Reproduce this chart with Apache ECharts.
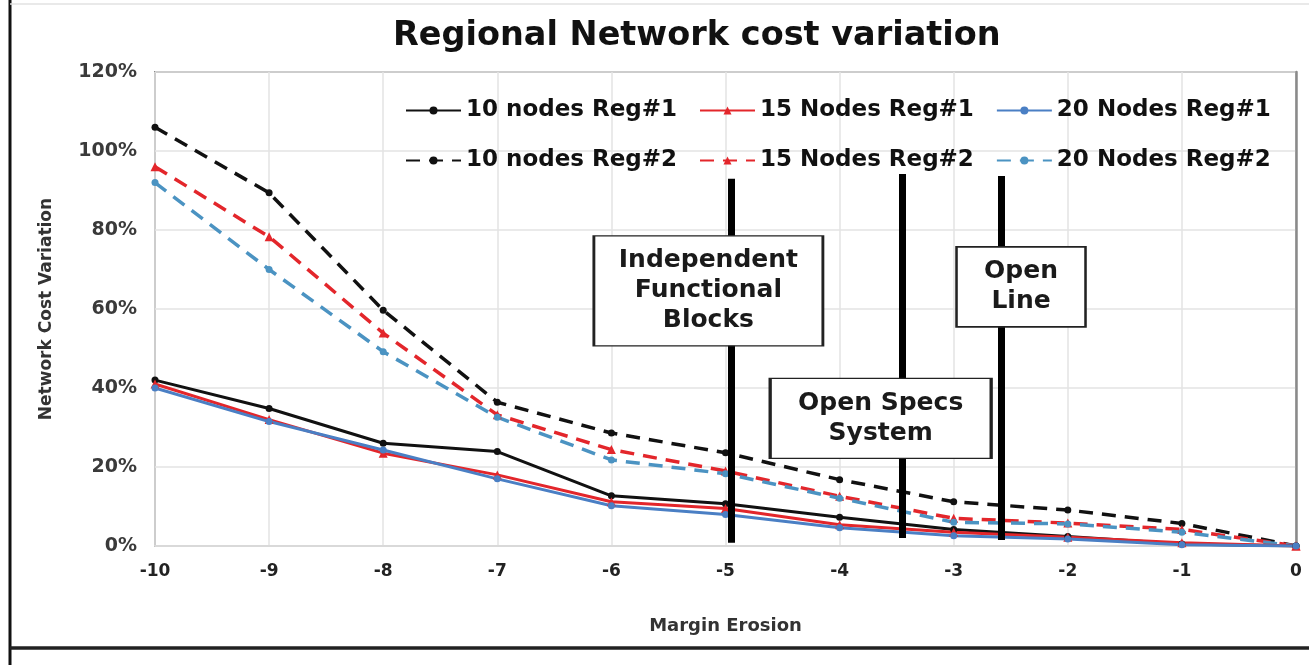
<!DOCTYPE html>
<html>
<head>
<meta charset="utf-8">
<script src="https://cdn.jsdelivr.net/npm/echarts@6/dist/echarts.min.js"></script>
<style>
html,body{margin:0;padding:0;background:#fff;}
#chart{width:1309px;height:665px;}
</style>
</head>
<body>
<div id="chart"></div>
<script>
// ---- data ----
var marginErosion = [-10, -9, -8, -7, -6, -5, -4, -3, -2, -1, 0];
var nodes10Reg1 = [42, 34.8, 26, 23.9, 12.7, 10.7, 7.3, 4.2, 2.4, 0.5, 0];
var nodes15Reg1 = [41, 32, 23.5, 18, 11.2, 9.5, 5.4, 3.5, 2.2, 0.8, 0];
var nodes20Reg1 = [40, 31.5, 24.3, 17, 10.2, 8, 4.6, 2.6, 1.8, 0.3, 0];
var nodes10Reg2 = [106, 89.4, 59.7, 36.4, 28.6, 23.6, 16.8, 11.2, 9.1, 5.7, 0];
var nodes15Reg2 = [96, 78.3, 53.9, 33.2, 24.4, 19, 12.6, 7, 5.8, 4.2, 0];
var nodes20Reg2 = [92, 70, 49.2, 32.6, 21.8, 18.3, 12.1, 6, 5.6, 3.5, 0];
var yTicks = [0, 20, 40, 60, 80, 100, 120];
var seriesNames = ['10 nodes Reg#1', '15 Nodes Reg#1', '20 Nodes Reg#1',
                   '10 nodes Reg#2', '15 Nodes Reg#2', '20 Nodes Reg#2'];
// annotation stages: [x position, top %, bottom %]
var stageLines = [[-4.95, 93, 0.8], [-3.45, 94.2, 2], [-2.58, 93.7, 1.5]];
// annotation boxes: [label, x, y%]
var stageBoxes = [
  ['Independent\nFunctional\nBlocks', -5.15, 64.6],
  ['Open Specs\nSystem', -3.64, 32.3],
  ['Open\nLine', -2.41, 65.6]
];
var boxSizes = [[229, 110], [221, 80], [129, 80]];

var FONT = 'DejaVu Sans';
var BLACK = '#111111', RED = '#e3262b', BLUE = '#4a7fc4', BLUE2 = '#4b93c2';

function pairs(vals) {
  return marginErosion.map(function (x, i) { return [x, vals[i]]; });
}
function mkSeries(name, vals, color, dashed, symbol) {
  return {
    name: name, type: 'line', data: pairs(vals),
    symbol: symbol, symbolSize: symbol === 'triangle' ? 9 : 7,
    z: dashed ? 2 : 3,
    lineStyle: { color: color, width: dashed ? 3.5 : 3, type: dashed ? [14, 9] : 'solid' },
    itemStyle: { color: color }
  };
}

var series = [
  mkSeries(seriesNames[0], nodes10Reg1, BLACK, false, 'circle'),
  mkSeries(seriesNames[1], nodes15Reg1, RED, false, 'triangle'),
  mkSeries(seriesNames[2], nodes20Reg1, BLUE, false, 'circle'),
  mkSeries(seriesNames[3], nodes10Reg2, BLACK, true, 'circle'),
  mkSeries(seriesNames[4], nodes15Reg2, RED, true, 'triangle'),
  mkSeries(seriesNames[5], nodes20Reg2, BLUE2, true, 'circle'),
  {
    name: 'stages', type: 'line', data: [], z: 6, silent: true,
    markLine: {
      silent: true, symbol: ['none', 'none'], label: { show: false },
      lineStyle: { color: '#000', width: 7, type: 'solid' },
      data: stageLines.map(function (s) {
        return [{ coord: [s[0], s[1]] }, { coord: [s[0], s[2]] }];
      })
    }
  },
  {
    name: 'boxes', type: 'line', data: [], z: 8, silent: true,
    markPoint: {
      silent: true,
      data: stageBoxes.map(function (b, i) {
        return {
          coord: [b[1], b[2]], symbol: 'rect', symbolSize: boxSizes[i],
          itemStyle: { color: '#fff', borderColor: '#222', borderWidth: 2 },
          label: {
            show: true, position: 'inside', formatter: b[0],
            color: '#1a1a1a', fontFamily: FONT, fontWeight: 'bold',
            fontSize: 25, lineHeight: 30, align: 'center'
          }
        };
      })
    }
  }
];

var legendCommon = {
  orient: 'horizontal', padding: 0, itemWidth: 55, itemHeight: 10, itemGap: 22,
  textStyle: { fontFamily: FONT, fontWeight: 'bold', fontSize: 23, color: '#111' },
  selectedMode: false
};

var option = {
  backgroundColor: '#fff',
  animation: false,
  title: {
    text: 'Regional Network cost variation', left: 388, top: 14,
    textStyle: { fontFamily: FONT, fontWeight: 'bold', fontSize: 33.5, color: '#111' }
  },
  legend: [
    Object.assign({}, legendCommon, { left: 405, top: 99, data: seriesNames.slice(0, 3) }),
    Object.assign({}, legendCommon, { left: 405, top: 149, data: seriesNames.slice(3, 6) })
  ],
  grid: { left: 155, right: 13, top: 72, bottom: 119, show: true,
          borderColor: '#8a8a8a', borderWidth: 2, containLabel: false },
  xAxis: {
    type: 'value', min: -10, max: 0, interval: 1,
    name: 'Margin Erosion', nameLocation: 'middle', nameGap: 71,
    nameTextStyle: { fontFamily: FONT, fontWeight: 'bold', fontSize: 18, color: '#333' },
    axisLine: { show: true, lineStyle: { color: '#d9d9d9', width: 2 } },
    axisTick: { show: false },
    axisLabel: { margin: 17, fontFamily: FONT, fontWeight: 'bold', fontSize: 17, color: '#222' },
    splitLine: { show: true, lineStyle: { color: '#e3e3e3', width: 1.5 } }
  },
  yAxis: {
    type: 'value', min: yTicks[0], max: yTicks[yTicks.length - 1], interval: 20,
    name: 'Network Cost Variation', nameLocation: 'middle', nameGap: 100, nameRotate: 90,
    nameTextStyle: { fontFamily: FONT, fontWeight: 'bold', fontSize: 17, color: '#333' },
    axisLine: { show: true, lineStyle: { color: '#8a8a8a', width: 2.5 } },
    axisTick: { show: false },
    axisLabel: { margin: 18, formatter: '{value}%', fontFamily: FONT, fontWeight: 'bold', fontSize: 19, color: '#3a3a3a' },
    splitLine: { show: true, lineStyle: { color: '#e3e3e3', width: 1.5 } }
  },
  graphic: [
    { type: 'line', shape: { x1: 10, y1: 0, x2: 10, y2: 665 }, style: { stroke: '#111', lineWidth: 3 }, silent: true },
    { type: 'line', shape: { x1: 10, y1: 648, x2: 1309, y2: 648 }, style: { stroke: '#222', lineWidth: 3.5 }, silent: true },
    { type: 'line', shape: { x1: 10, y1: 4, x2: 1309, y2: 4 }, style: { stroke: '#e2e2e2', lineWidth: 1.5 }, silent: true }
  ],
  series: series
};

var chart = echarts.init(document.getElementById('chart'), null, { renderer: 'canvas' });
chart.setOption(option);
</script>
</body>
</html>
